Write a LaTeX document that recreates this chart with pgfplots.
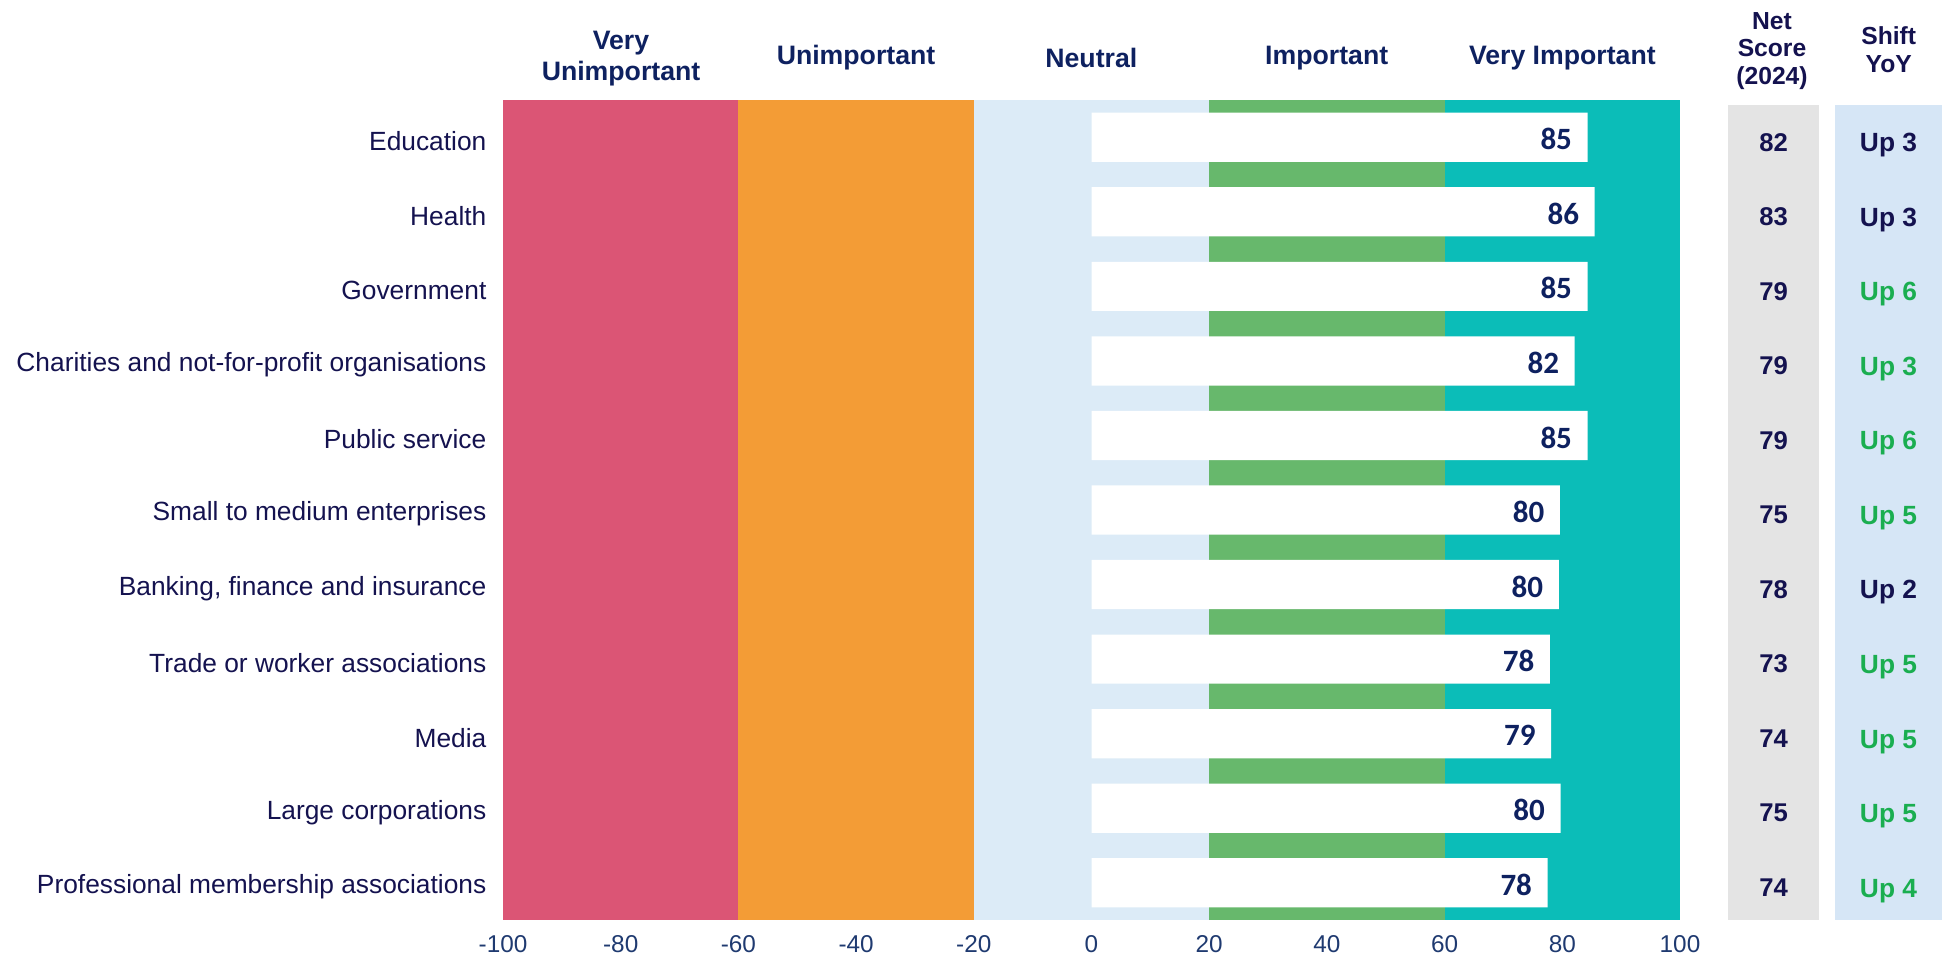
\documentclass[border=0pt]{standalone}
\usepackage{pgfplots}
\usepackage{pgfplotstable}
\pgfplotsset{compat=1.18}
\usepackage{fontspec}
\setmainfont{Liberation Sans}
\newfontfamily\carl{Carlito}
\definecolor{cpink}{HTML}{DB5575}
\definecolor{corange}{HTML}{F39C36}
\definecolor{clblue}{HTML}{DCEBF7}
\definecolor{cgreen}{HTML}{67B86C}
\definecolor{cteal}{HTML}{0BBDB8}
\definecolor{cgray}{HTML}{E4E4E4}
\definecolor{ccol}{HTML}{D6E6F6}
\definecolor{navy}{HTML}{0E2160}
\definecolor{ink}{HTML}{14124F}
\definecolor{upgreen}{HTML}{1AAE50}
\definecolor{tickc}{HTML}{1F3A70}

\pgfplotstableread{
row val lab
0 84.3 85
1 85.5 86
2 84.3 85
3 82.1 82
4 84.3 85
5 79.6 80
6 79.4 80
7 77.9 78
8 78.1 79
9 79.7 80
10 77.5 78
}\barsdata

\pgfplotsset{
  textonly/.style={only marks, mark=*, mark size=0pt,
    mark options={draw opacity=0, fill opacity=0},
    point meta=explicit symbolic, nodes near coords,
    every node near coord/.append style={text opacity=1, fill opacity=0, draw opacity=0}},
}

\begin{document}
\begin{tikzpicture}
\useasboundingbox (0pt,0pt) rectangle (582.6pt,-287.1pt);
\begin{axis}[
  at={(150.9pt,-276pt)}, anchor=south west,
  scale only axis, width=353.1pt, height=246pt,
  xmin=-100, xmax=100, ymin=-0.5, ymax=10.5, y dir=reverse,
  axis line style={draw=none}, major tick length=0pt,
  xtick={-100,-80,...,100},
  xticklabels={-100,-80,-60,-40,-20,0,20,40,60,80,100},
  xticklabel style={font=\fontsize{7.3}{8.5}\selectfont, text=tickc, inner sep=0pt, anchor=north, yshift=-4.4pt},
  ytick={0,...,10},
  yticklabels={{Education},{Health},{Government},{Charities and not-for-profit organisations},{Public service},{Small to medium enterprises},{Banking, finance and insurance},{Trade or worker associations},{Media},{Large corporations},{Professional membership associations}},
  yticklabel style={font=\fontsize{7.9}{9}\selectfont, text=ink, inner sep=0pt, anchor=east, xshift=-4.8pt, yshift=-1.2pt},
  clip=false,
]
\addplot[fill=cpink, draw=none] coordinates {(-100,-0.5) (-60,-0.5) (-60,10.5) (-100,10.5)} -- cycle;
\addplot[fill=corange, draw=none] coordinates {(-60,-0.5) (-20,-0.5) (-20,10.5) (-60,10.5)} -- cycle;
\addplot[fill=clblue, draw=none] coordinates {(-20,-0.5) (20,-0.5) (20,10.5) (-20,10.5)} -- cycle;
\addplot[fill=cgreen, draw=none] coordinates {(20,-0.5) (60,-0.5) (60,10.5) (20,10.5)} -- cycle;
\addplot[fill=cteal, draw=none] coordinates {(60,-0.5) (100,-0.5) (100,10.5) (60,10.5)} -- cycle;
\addplot[xbar, bar width=0.66, bar shift=0pt, fill=white, draw=none] table[x=val, y=row] {\barsdata};
\addplot[textonly,
  every node near coord/.append style={anchor=east, xshift=-4.5pt, yshift=-0.6pt, inner sep=0pt,
    font=\carl\bfseries\fontsize{9.3}{10}\selectfont, text=navy}]
  table[x=val, y=row, meta=lab] {\barsdata};
\end{axis}

\begin{axis}[
  at={(518.4pt,-276pt)}, anchor=south west,
  scale only axis, width=27.3pt, height=244.5pt,
  xmin=0, xmax=1, ymin=-0.433, ymax=10.5, y dir=reverse,
  hide axis, clip=false,
]
\addplot[fill=cgray, draw=none] coordinates {(0,-0.433) (1,-0.433) (1,10.5) (0,10.5)} -- cycle;
\addplot[textonly,
  every node near coord/.append style={anchor=center, yshift=-1.5pt, inner sep=0pt,
    font=\bfseries\fontsize{7.7}{8.5}\selectfont, text=ink}]
  coordinates {(0.5,0) [82] (0.5,1) [83] (0.5,2) [79] (0.5,3) [79] (0.5,4) [79] (0.5,5) [75] (0.5,6) [78] (0.5,7) [73] (0.5,8) [74] (0.5,9) [75] (0.5,10) [74]};
\end{axis}

\begin{axis}[
  at={(550.5pt,-276pt)}, anchor=south west,
  scale only axis, width=32.1pt, height=244.5pt,
  xmin=0, xmax=1, ymin=-0.433, ymax=10.5, y dir=reverse,
  hide axis, clip=false,
]
\addplot[fill=ccol, draw=none] coordinates {(0,-0.433) (1,-0.433) (1,10.5) (0,10.5)} -- cycle;
\addplot[textonly,
  every node near coord/.append style={anchor=base, yshift=-4.3pt, inner sep=0pt,
    font=\bfseries\fontsize{7.9}{8.5}\selectfont, text=ink}]
  coordinates {(0.5,0) [Up 3] (0.5,1) [Up 3] (0.5,6) [Up 2]};
\addplot[textonly,
  every node near coord/.append style={anchor=base, yshift=-4.3pt, inner sep=0pt,
    font=\bfseries\fontsize{7.9}{8.5}\selectfont, text=upgreen}]
  coordinates {(0.5,2) [Up 6] (0.5,3) [Up 3] (0.5,4) [Up 6] (0.5,5) [Up 5] (0.5,7) [Up 5] (0.5,8) [Up 5] (0.5,9) [Up 5] (0.5,10) [Up 4]};
\end{axis}

\begin{scope}[every node/.style={align=center, inner sep=0pt, text=navy, font=\bfseries\fontsize{8}{9.3}\selectfont}]
\node at (186.3pt,-17.6pt) {Very\\Unimportant};
\node at (256.8pt,-17.4pt) {Unimportant};
\node at (327.4pt,-17.4pt) {Neutral};
\node at (398.0pt,-17.4pt) {Important};
\node at (468.7pt,-17.4pt) {Very Important};
\end{scope}
\begin{scope}[every node/.style={align=center, inner sep=0pt, text=ink, font=\bfseries\fontsize{7.4}{8.3}\selectfont}]
\node at (531.6pt,-15.3pt) {Net\\Score\\(2024)};
\node at (566.6pt,-14.9pt) {Shift\\YoY};
\end{scope}
\end{tikzpicture}
\end{document}
